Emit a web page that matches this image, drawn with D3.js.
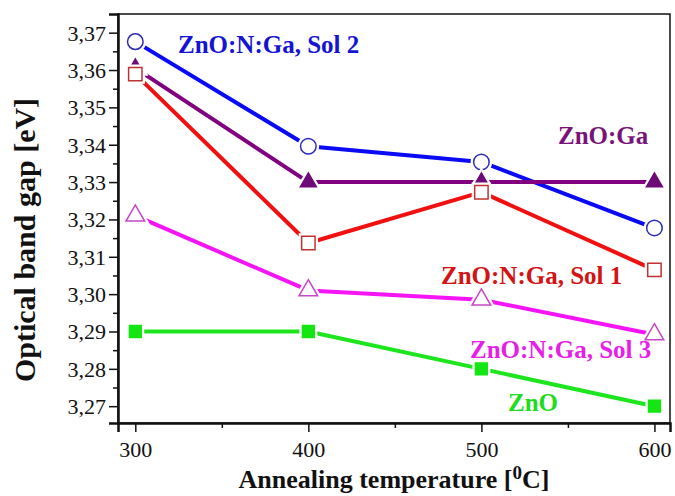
<!DOCTYPE html>
<html>
<head>
<meta charset="utf-8">
<script src="https://cdn.jsdelivr.net/npm/d3@7"></script>
</head>
<body style="margin:0;background:#fff">
<div id="chart"></div>
<script>
const temperatures = [300, 400, 500, 600];
const xTicks = [300, 400, 500, 600];
const yTicks = [3.27, 3.28, 3.29, 3.30, 3.31, 3.32, 3.33, 3.34, 3.35, 3.36, 3.37];

const sol2 = [3.3676, 3.3396, 3.3354, 3.3177];
const znoGa = [3.3605, 3.33, 3.33, 3.33];
const sol1 = [3.3589, 3.3137, 3.3273, 3.3065];
const sol3 = [3.3210, 3.3010, 3.2985, 3.2892];
const zno = [3.29, 3.29, 3.28, 3.27];

const series = [
  { name: "ZnO:N:Ga, Sol 2", values: sol2, line: "#0a0af5", marker: "circle", stroke: "#2b2bb5", fill: "#fff",
    label: { x: 178, y: 53, color: "#1414d2" } },
  { name: "ZnO:Ga", values: znoGa, line: "#800080", marker: "triangleFilled", stroke: "#6e0a78", fill: "#6e0a78",
    label: { x: 558, y: 144, color: "#781478" } },
  { name: "ZnO:N:Ga, Sol 1", values: sol1, line: "#f01010", marker: "square", stroke: "#c03232", fill: "#fff",
    label: { x: 441, y: 284, color: "#d21414" } },
  { name: "ZnO:N:Ga, Sol 3", values: sol3, line: "#f514f5", marker: "triangle", stroke: "#c846c8", fill: "#fff",
    label: { x: 470, y: 358, color: "#e61ee6" } },
  { name: "ZnO", values: zno, line: "#1ee61e", marker: "squareFilled", stroke: "#14e614", fill: "#14e614",
    label: { x: 508, y: 411, color: "#1edc1e" } },
];

const FONT = "Liberation Serif";
const width = 675, height = 496;
const margin = { top: 14, right: 5, bottom: 73, left: 118 };

const svg = d3.select("#chart").append("svg")
  .attr("width", width).attr("height", height)
  .attr("font-family", FONT);

const x = d3.scaleLinear().domain([290, 609]).range([margin.left, width - margin.right]);
const y = d3.scaleLinear().domain([3.2655, 3.375]).range([height - margin.bottom, margin.top]);

// frame
svg.append("rect")
  .attr("x", margin.left).attr("y", margin.top)
  .attr("width", width - margin.right - margin.left)
  .attr("height", height - margin.bottom - margin.top)
  .attr("fill", "none").attr("stroke", "#111").attr("stroke-width", 1.5);

// y axis with minor ticks
const yMinor = d3.range(3.27, 3.3745, 0.005).filter(v => Math.abs(Math.round(v * 100) - v * 100) > 1e-6);
svg.append("g")
  .attr("transform", `translate(${margin.left},0)`)
  .call(d3.axisLeft(y).tickValues(yMinor).tickSize(5).tickFormat(""))
  .call(g => g.select(".domain").remove())
  .call(g => g.selectAll("line").attr("stroke", "#111").attr("stroke-width", 1.5));

const gy = svg.append("g")
  .attr("transform", `translate(${margin.left},0)`)
  .call(d3.axisLeft(y).tickValues(yTicks).tickSize(9).tickPadding(3)
    .tickFormat(d => d3.format(".2f")(d).replace(".", ",")));
gy.attr("font-family", FONT);
gy.select(".domain").attr("stroke", "#111").attr("stroke-width", 2.5);
gy.selectAll("line").attr("stroke", "#111").attr("stroke-width", 1.5);
gy.selectAll("text").attr("font-family", FONT).attr("font-size", 22)
  .attr("fill", "#111").attr("dy", "0.34em");

// x axis with minor ticks
svg.append("g")
  .attr("transform", `translate(0,${height - margin.bottom})`)
  .call(d3.axisBottom(x).tickValues([350, 450, 550]).tickSize(5).tickFormat(""))
  .call(g => g.select(".domain").remove())
  .call(g => g.selectAll("line").attr("stroke", "#111").attr("stroke-width", 1.5));

const gx = svg.append("g")
  .attr("transform", `translate(0,${height - margin.bottom})`)
  .call(d3.axisBottom(x).tickValues(xTicks).tickSize(9).tickPadding(8));
gx.attr("font-family", FONT);
gx.select(".domain").attr("stroke", "#111").attr("stroke-width", 2.5);
gx.selectAll("line").attr("stroke", "#111").attr("stroke-width", 1.5);
gx.selectAll("text").attr("font-family", FONT).attr("font-size", 22)
  .attr("fill", "#111").attr("dy", "0.75em");

// axis titles
svg.append("text")
  .attr("transform", `translate(35,240) rotate(-90)`)
  .attr("text-anchor", "middle")
  .attr("font-family", FONT)
  .attr("font-weight", "bold").attr("font-size", 30).attr("fill", "#111")
  .text("Optical band gap [eV]");

const xt = svg.append("text")
  .attr("x", 394).attr("y", 488)
  .attr("text-anchor", "middle")
  .attr("font-family", FONT)
  .attr("font-weight", "bold").attr("font-size", 26).attr("fill", "#111");
xt.append("tspan").text("Annealing temperature [");
xt.append("tspan").attr("dy", -9).attr("font-size", 19).text("0");
xt.append("tspan").attr("dy", 9).text("C]");

// lines
const line = d3.line().x((d, i) => x(temperatures[i])).y(d => y(d));

const gSeries = svg.append("g").selectAll("g").data(series).join("g");

gSeries.append("path")
  .attr("d", d => line(d.values))
  .attr("fill", "none")
  .attr("stroke", d => d.line)
  .attr("stroke-width", 4)
  .attr("stroke-linejoin", "round");

const symbolPath = {
  circle: d3.symbol(d3.symbolCircle, 190)(),
  square: d3.symbol(d3.symbolSquare, 180)(),
  squareFilled: d3.symbol(d3.symbolSquare, 140)(),
  triangle: d3.symbol(d3.symbolTriangle, 150)(),
  triangleFilled: d3.symbol(d3.symbolTriangle, 110)(),
};

gSeries.each(function (s) {
  const g = d3.select(this);
  const pts = s.values.map((v, i) => [x(temperatures[i]), y(v)]);
  // white halo to break the line around markers
  g.selectAll(".halo").data(pts).join("path")
    .attr("class", "halo")
    .attr("transform", d => `translate(${d})`)
    .attr("d", symbolPath[s.marker])
    .attr("fill", "#fff").attr("stroke", "#fff").attr("stroke-width", 6);
  g.selectAll(".mark").data(pts).join("path")
    .attr("class", "mark")
    .attr("transform", d => `translate(${d})`)
    .attr("d", symbolPath[s.marker])
    .attr("fill", s.fill).attr("stroke", s.stroke).attr("stroke-width", 1.5);
});

// series labels
svg.append("g").selectAll("text").data(series).join("text")
  .attr("x", d => d.label.x).attr("y", d => d.label.y)
  .attr("font-family", FONT)
  .attr("font-weight", "bold").attr("font-size", 25)
  .attr("fill", d => d.label.color)
  .text(d => d.name);
</script>
</body>
</html>
